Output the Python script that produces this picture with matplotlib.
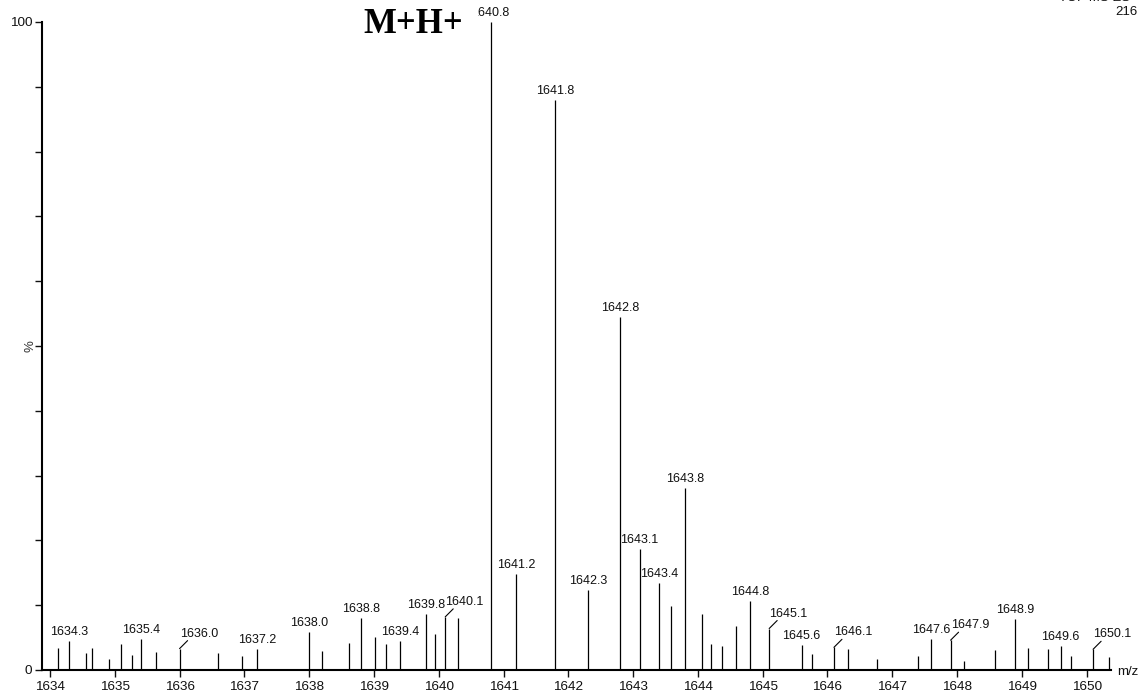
import matplotlib.pyplot as plt

plt.rcParams['font.family'] = ['Liberation Sans', 'DejaVu Sans']

# peak list: m/z and relative intensity (%)
peak_mz = [1634.13, 1634.3, 1634.55, 1634.65, 1634.91, 1635.09, 1635.27, 1635.4, 1635.64,
           1636.0, 1636.60, 1636.97, 1637.2,
           1638.0, 1638.20, 1638.61, 1638.8, 1639.01, 1639.18, 1639.4, 1639.8, 1639.94,
           1640.1, 1640.30, 1640.8, 1641.2, 1641.8,
           1642.3, 1642.8, 1643.1, 1643.4, 1643.58, 1643.8, 1644.06, 1644.20, 1644.37,
           1644.59, 1644.8, 1645.1, 1645.6, 1645.76, 1646.1, 1646.31,
           1646.76, 1647.39, 1647.6, 1647.9, 1648.10, 1648.59, 1648.9, 1649.09, 1649.40,
           1649.6, 1649.76, 1650.1, 1650.34]
peak_int = [3.35, 4.5, 2.6, 3.35, 1.65, 4.0, 2.3, 4.8, 2.8,
            3.3, 2.6, 2.2, 3.2,
            5.9, 3.0, 4.2, 8.0, 5.1, 4.0, 4.5, 8.6, 5.5,
            8.2, 8.1, 100.0, 14.8, 88.0,
            12.4, 54.4, 18.6, 13.4, 9.9, 28.1, 8.6, 4.0, 3.7,
            6.8, 10.7, 6.4, 3.9, 2.5, 3.5, 3.3,
            1.7, 2.2, 4.8, 4.6, 1.4, 3.1, 7.8, 3.4, 3.2,
            3.7, 2.2, 3.2, 2.0]

# peaks that get an m/z label, and the ones whose label sits on a leader line
labelled_mz = [1634.3, 1635.4, 1636.0, 1637.2, 1638.0, 1638.8, 1639.4, 1639.8, 1640.1,
               1640.8, 1641.2, 1641.8, 1642.3, 1642.8, 1643.1, 1643.4, 1643.8, 1644.8,
               1645.1, 1645.6, 1646.1, 1647.6, 1647.9, 1648.9, 1649.6, 1650.1]
leader_mz = [1636.0, 1640.1, 1645.1, 1646.1, 1647.9, 1650.1]

x_ticks = list(range(1634, 1651))
y_ticks = list(range(0, 101, 10))

fig = plt.figure(figsize=(11.41, 6.94), dpi=100)
ax = fig.add_axes([42/1141, 1-670/694, 1069/1141, 648/694])

ax.vlines(peak_mz, 0, peak_int, color='black', lw=0.9)

for mz, h in zip(peak_mz, peak_int):
    if mz not in labelled_mz:
        continue
    txt = f"{mz:.1f}"
    if mz in leader_mz:
        ax.annotate('', xy=(mz, h), xytext=(8, 8), textcoords='offset pixels',
                    arrowprops=dict(arrowstyle='-', lw=0.8, color='black',
                                    shrinkA=0, shrinkB=0))
        ax.annotate(txt, xy=(mz, h), xytext=(0, 9), textcoords='offset pixels',
                    ha='left', va='bottom', fontsize=9, color='#111111',
                    annotation_clip=False)
    else:
        ax.annotate(txt, xy=(mz, h), xytext=(0, 3), textcoords='offset pixels',
                    ha='center', va='bottom', fontsize=9, color='#111111',
                    annotation_clip=False)

ax.set_xlim(1633.8765, 1650.376)
ax.set_ylim(0, 100)
ax.set_xticks(x_ticks)
ax.set_yticks(y_ticks)
ax.set_yticklabels(['0'] + [''] * 9 + ['100'])
ax.tick_params(axis='both', direction='out', length=5, width=1, labelsize=9.7,
               colors='#111111', pad=2)
ax.tick_params(axis='x', pad=3)
for side in ['top', 'right']:
    ax.spines[side].set_visible(False)
for side in ['left', 'bottom']:
    ax.spines[side].set_linewidth(1.5)

ax.text(-0.005, 0.5, '%', rotation=90, ha='right', va='center',
        fontsize=9.5, color='#333333', transform=ax.transAxes)
fig.text(1117/1141, 1-672/694, 'm/z', ha='left', va='center', fontsize=9.5, color='#111111')

# header in the top right corner
fig.text(1138/1141, 1-12/694, '216', ha='right', va='center', fontsize=9.5, color='#111111')
fig.text(1138/1141, 1+2/694, 'TOF MS ES+', ha='right', va='center', fontsize=9.5, color='#111111')

fig.text(363/1141, 1-33/694, 'M+H+', ha='left', va='baseline', fontsize=25,
         fontweight='bold', family='Liberation Serif', zorder=5,
         bbox=dict(facecolor='white', edgecolor='none', pad=11))

plt.savefig('out.png', dpi=100)
